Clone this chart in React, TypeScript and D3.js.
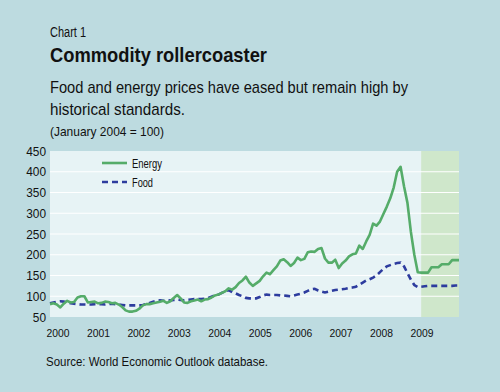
import React, { useEffect, useRef } from 'react';
import * as d3 from 'd3';

// monthly, Jan 2000 .. Dec 2009 (January 2004 = 100)
const energy = [
  81, 83, 80, 73, 82, 89, 85, 86, 97, 100, 100, 85,
  86, 87, 83, 84, 87, 86, 83, 84, 80, 74, 66, 63,
  63, 65, 70, 78, 81, 81, 83, 85, 87, 89, 84, 88,
  96, 103, 95, 85, 84, 88, 90, 92, 88, 92, 93, 97,
  102, 104, 108, 112, 119, 116, 122, 132, 138, 147, 133, 125,
  131, 137, 148, 157, 153, 163, 172, 186, 189, 182, 173, 180,
  193, 187, 190, 206, 208, 207, 214, 216, 191, 181, 181, 188,
  168, 179, 186, 196, 201, 203, 222, 214, 232, 248, 275, 270,
  280, 298, 316, 336, 362, 400, 412, 365, 325, 255, 200, 158,
  157, 157, 157, 170, 170, 170, 177, 177, 177, 187, 187, 187
];

const food = [
  83, 85, 87, 88, 87, 85, 83, 82, 81, 80, 80, 80,
  80, 81, 81, 81, 80, 81, 82, 81, 80, 79, 78, 78,
  78, 78, 78, 79, 81, 84, 87, 89, 90, 89, 89, 90,
  91, 92, 91, 90, 91, 92, 93, 93, 93, 94, 96, 99,
  102, 104, 108, 112, 115, 110, 107, 103, 100, 96, 95, 95,
  95, 98, 102, 104, 103, 103, 103, 102, 102, 101, 100, 102,
  104, 106, 109, 113, 117, 118, 114, 111, 109, 111, 113, 115,
  116, 117, 118, 120, 121, 123, 128, 133, 138, 141, 145, 150,
  158, 166, 172, 175, 178, 180, 181, 172, 156, 140, 127, 122,
  123, 124, 125, 125, 125, 125, 125, 125, 125, 125, 126, 126
];

const years = [2000, 2001, 2002, 2003, 2004, 2005, 2006, 2007, 2008, 2009];
const yTicks = [50, 100, 150, 200, 250, 300, 350, 400, 450];
const forecastStart = 108; // Jan 2009

const FONT = '"Liberation Sans", Arial, sans-serif';

const App = () => {
  const svgRef = useRef(null);

  useEffect(() => {
    document.body.style.margin = '0';
    const svg = d3.select(svgRef.current);
    svg.selectAll('*').remove();

    const width = 500;
    const height = 392;
    const plot = { left: 50, right: 459, top: 151, bottom: 317 };

    // background
    svg.append('rect')
      .attr('width', width)
      .attr('height', height)
      .attr('fill', '#bddbe0');

    const x = d3.scaleLinear().domain([0, energy.length - 1]).range([plot.left, plot.right]);
    const y = d3.scaleLinear().domain([50, 450]).range([plot.bottom, plot.top]);
    const yearPos = d3.scaleLinear().domain([2000, 2009]).range([58, 422]);

    // plot area
    svg.append('rect')
      .attr('x', plot.left)
      .attr('y', plot.top)
      .attr('width', plot.right - plot.left)
      .attr('height', plot.bottom - plot.top)
      .attr('fill', '#e7f3f5');

    // forecast shading
    svg.append('rect')
      .attr('x', x(forecastStart))
      .attr('y', plot.top)
      .attr('width', x(energy.length - 1) - x(forecastStart))
      .attr('height', plot.bottom - plot.top)
      .attr('fill', '#cfe7cb');

    // gridlines
    svg.append('g')
      .selectAll('line')
      .data(yTicks.slice(1, -1))
      .enter()
      .append('line')
      .attr('x1', plot.left)
      .attr('x2', plot.right)
      .attr('y1', d => y(d))
      .attr('y2', d => y(d))
      .attr('stroke', '#ffffff')
      .attr('stroke-width', 1.2);

    // y labels
    svg.append('g')
      .selectAll('text')
      .data(yTicks)
      .enter()
      .append('text')
      .attr('x', 46)
      .attr('y', d => y(d))
      .attr('dy', '0.36em')
      .attr('text-anchor', 'end')
      .attr('textLength', d => String(d).length * 6.6)
      .attr('lengthAdjust', 'spacingAndGlyphs')
      .style('font-family', FONT)
      .style('font-size', '13px')
      .attr('fill', '#111')
      .text(d => d);

    // x labels
    svg.append('g')
      .selectAll('text')
      .data(years)
      .enter()
      .append('text')
      .attr('x', d => yearPos(d))
      .attr('y', 336.5)
      .attr('text-anchor', 'middle')
      .attr('textLength', 23)
      .attr('lengthAdjust', 'spacingAndGlyphs')
      .style('font-family', FONT)
      .style('font-size', '10.5px')
      .attr('fill', '#111')
      .text(d => d);

    const line = d3.line().x((d, i) => x(i)).y(d => y(d));

    svg.append('path')
      .datum(food)
      .attr('d', line)
      .attr('fill', 'none')
      .attr('stroke', '#2d3c9e')
      .attr('stroke-width', 2.6)
      .attr('stroke-dasharray', '6,4');

    svg.append('path')
      .datum(energy)
      .attr('d', line)
      .attr('fill', 'none')
      .attr('stroke', '#55ac69')
      .attr('stroke-width', 2.6)
      .attr('stroke-linejoin', 'round');

    // legend
    const legend = [
      { label: 'Energy', color: '#55ac69', dash: null, y: 163, w: 30 },
      { label: 'Food', color: '#2d3c9e', dash: '6,4', y: 182, w: 21 }
    ];
    const lg = svg.append('g');
    legend.forEach(item => {
      lg.append('line')
        .attr('x1', 102)
        .attr('x2', 127)
        .attr('y1', item.y)
        .attr('y2', item.y)
        .attr('stroke', item.color)
        .attr('stroke-width', 2.6)
        .attr('stroke-dasharray', item.dash);
      lg.append('text')
        .attr('x', 132)
        .attr('y', item.y)
        .attr('dy', '0.36em')
        .attr('textLength', item.w)
        .attr('lengthAdjust', 'spacingAndGlyphs')
        .style('font-family', FONT)
        .style('font-size', '13.5px')
        .attr('fill', '#111')
        .text(item.label);
    });

    // titles
    const addText = (txt, xx, yy, size, w, weight = 'normal') => {
      svg.append('text')
        .attr('x', xx)
        .attr('y', yy)
        .attr('textLength', w)
        .attr('lengthAdjust', 'spacingAndGlyphs')
        .style('font-family', FONT)
        .style('font-size', size)
        .style('font-weight', weight)
        .attr('fill', '#111')
        .text(txt);
    };
    addText('Chart 1', 50, 37, '14px', 36);
    addText('Commodity rollercoaster', 50, 62, '21px', 217, 'bold');
    addText('Food and energy prices have eased but remain high by', 50, 93, '17px', 358);
    addText('historical standards.', 50, 115, '17px', 135);
    addText('(January 2004 = 100)', 50, 136, '13px', 114);
    addText('Source: World Economic Outlook database.', 46, 366, '13.5px', 222);
  }, []);

  return (
    <svg ref={svgRef} width={500} height={392} style={{ display: 'block' }}></svg>
  );
};

export default App;
